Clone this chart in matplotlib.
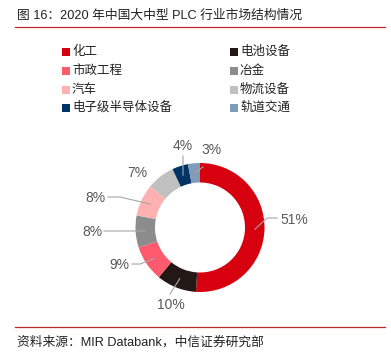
import numpy as np
import matplotlib
matplotlib.use("Agg")
import matplotlib.pyplot as plt
from matplotlib.patches import Rectangle

plt.rcParams['font.family'] = ['Liberation Sans', 'Noto Sans CJK SC', 'DejaVu Sans']

# ---- data ----
categories = ['化工', '电池设备', '市政工程', '冶金', '汽车', '物流设备', '电子级半导体设备', '轨道交通']
values = [51, 10, 9, 8, 8, 7, 4, 3]
labels = ['51%', '10%', '9%', '8%', '8%', '7%', '4%', '3%']
colors = ['#D7000F', '#231815', '#FF5A6E', '#8C8C8C', '#FFB0B0', '#C0C0C0', '#003366', '#7F9CB8']
title = '图 16：2020 年中国大中型 PLC 行业市场结构情况'
source = '资料来源：MIR Databank，中信证券研究部'

W, H = 391, 356
fig = plt.figure(figsize=(W / 100, H / 100), dpi=100)
ax = fig.add_axes([0, 0, 1, 1])
ax.set_xlim(0, W)
ax.set_ylim(0, H)
ax.axis('off')

def Y(py):
    return H - py

# title and rules
ax.text(17, Y(16), title, fontsize=9.2, color='#222222', va='center', ha='left')
ax.plot([15, 385], [Y(26.5), Y(26.5)], color='#C0282D', lw=0.9)
ax.plot([15, 385], [Y(327), Y(327)], color='#C0282D', lw=0.9)
ax.text(17, Y(342), source, fontsize=9.2, color='#222222', va='center', ha='left')

# legend (two columns, column-major)
col_x = [62, 230]
row_y = [52, 71, 90, 108]
for i, (cat, col) in enumerate(zip(categories, colors)):
    c = i % 2
    r = i // 2
    x0 = col_x[c]
    y0 = row_y[r]
    ax.add_patch(Rectangle((x0, Y(y0) - 4), 8, 8, facecolor=col, edgecolor='none'))
    ax.text(x0 + 10, Y(y0), cat, fontsize=9, color='#222222', va='center', ha='left')

# donut
cx, cy, R, Wd = 200, 227.5, 64.5, 19.5
wedges, _ = ax.pie(values, colors=colors, startangle=90, counterclock=False,
                   radius=R, center=(cx, Y(cy)), wedgeprops=dict(width=Wd, linewidth=0))
ax.set_xlim(0, W)
ax.set_ylim(0, H)
ax.set_aspect('equal')

# label layout (pixel coordinates) and leader-line end points
label_pos = [(294, 220), (171, 305), (119, 265), (92, 232), (95, 198), (137, 173), (183, 146), (211, 150)]
leader_end = [[(267, 218), (277, 218)], [(170, 294)], [(140, 264), (132, 264)], [(104, 231)],
              [(120, 197), (108, 197)], None, [(183, 156)], [(203, 167)]]

cum = np.cumsum([0] + values[:-1])
total = sum(values)
for i, v in enumerate(values):
    mid = np.deg2rad(90 - (cum[i] + v / 2) / total * 360)
    px, py = label_pos[i]
    ax.text(px, Y(py), labels[i], fontsize=10, color='#595959', ha='center', va='center')
    if leader_end[i] is not None:
        sx = cx + 55 * np.cos(mid)
        sy = Y(cy) + 55 * np.sin(mid)
        xs = [sx] + [p[0] for p in leader_end[i]]
        ys = [sy] + [Y(p[1]) for p in leader_end[i]]
        ax.plot(xs, ys, color='#A6A6A6', lw=0.8)

fig.savefig('out.png', dpi=100)
